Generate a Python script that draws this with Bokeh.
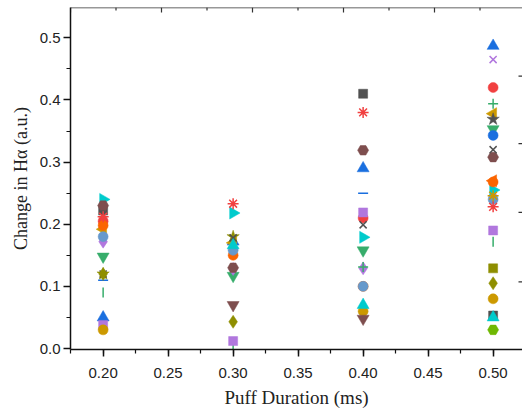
import math
from bokeh.plotting import figure
from bokeh.models import Range1d, FixedTicker, NumeralTickFormatter
from bokeh.embed import file_html
from bokeh.resources import INLINE

nan = float("nan")

# Puff durations (ms)
durations = [0.20, 0.30, 0.40, 0.50]

# Change in H-alpha (a.u.) for each measurement series, one value per duration
s_gray_square = [0.222, nan, 0.410, 0.053]
s_red_pentagon = [0.205, nan, 0.210, 0.420]
s_blue_up = [0.050, 0.172, 0.290, 0.487]
s_green_down = [0.148, 0.117, 0.158, 0.353]
s_purple_diamond = [0.172, 0.128, 0.129, 0.245]
s_gold_left = [0.192, 0.170, nan, 0.378]
s_cyan_right = [0.240, 0.218, 0.179, 0.255]
s_brown_hex = [0.230, 0.130, 0.319, 0.308]
s_olive_star = [0.120, 0.180, nan, nan]
s_orange_pentagon = [0.198, 0.150, 0.100, 0.268]
s_lightblue_sphere = [0.180, 0.158, 0.100, 0.240]
s_gray_x = [0.120, 0.178, 0.199, 0.320]
s_red_asterisk = [0.212, 0.233, 0.380, 0.228]
s_blue_dash = [0.110, nan, 0.250, nan]
s_green_bar = [0.090, 0.002, nan, 0.172]
s_purple_square = [0.038, 0.012, 0.219, 0.190]
s_gold_circle = [0.030, nan, 0.060, 0.080]
s_cyan_up = [nan, 0.166, 0.070, 0.050]
s_brown_down = [nan, 0.070, 0.048, nan]
s_olive_diamond = [0.120, 0.043, nan, 0.105]
s_orange_left = [nan, nan, nan, 0.270]
s_lime_hex = [nan, nan, nan, 0.030]
s_gray_star = [nan, nan, nan, 0.369]
s_blue_sphere = [nan, nan, nan, 0.343]
s_green_plus = [nan, nan, 0.131, 0.394]
s_purple_x = [nan, nan, nan, 0.465]
s_olive_square = [nan, nan, nan, 0.129]
s_gold_asterisk = [nan, nan, nan, 0.246]

x_ticks = [0.20, 0.25, 0.30, 0.35, 0.40, 0.45, 0.50]
y_ticks = [0.0, 0.1, 0.2, 0.3, 0.4, 0.5]

# edges of the neighbouring (cropped) panels, in frame pixel units
edge_top_major = [0, 91, 182, 273, 364]
edge_top_minor = [45.5, 136.5, 227.5, 318.5, 409.5]
edge_right_ticks = [68, 138, 207, 275]

# styles: (values, colour, marker, angle, size)
L = math.pi / 2
series = [
    (s_gray_square, "#515151", "square", 0, 9),
    (s_red_pentagon, "#F14040", "circle", 0, 10),
    (s_blue_up, "#1A6FDF", "triangle", 0, 12),
    (s_green_down, "#37AD6B", "inverted_triangle", 0, 12),
    (s_purple_diamond, "#B177DE", "diamond", 0, 13),
    (s_gold_left, "#CC9900", "triangle", L, 12),
    (s_cyan_right, "#00CBCC", "triangle", -L, 12),
    (s_brown_hex, "#7E4E4E", "hex", 0, 11),
    (s_olive_star, "#8E8E00", "star", 0, 13),
    (s_orange_pentagon, "#FB6501", "circle", 0, 10),
    (s_lightblue_sphere, "#6699CC", "circle", 0, 10),
    (s_gray_x, "#515151", "x", 0, 10),
    (s_red_asterisk, "#F14040", "asterisk", 0, 11),
    (s_blue_dash, "#1A6FDF", "dash", 0, 10),
    (s_green_bar, "#37AD6B", "dash", L, 10),
    (s_purple_square, "#B177DE", "square", 0, 9),
    (s_gold_circle, "#CC9900", "circle", 0, 10),
    (s_cyan_up, "#00CBCC", "triangle", 0, 12),
    (s_brown_down, "#7E4E4E", "inverted_triangle", 0, 12),
    (s_olive_diamond, "#8E8E00", "diamond", 0, 13),
    (s_orange_left, "#FB6501", "triangle", L, 12),
    (s_lime_hex, "#6FB802", "hex", 0, 11),
    (s_gray_star, "#515151", "star", 0, 13),
    (s_blue_sphere, "#1A6FDF", "circle", 0, 10),
    (s_green_plus, "#37AD6B", "cross", 0, 10),
    (s_purple_x, "#B177DE", "x", 0, 10),
    (s_olive_square, "#8E8E00", "square", 0, 9),
    (s_gold_asterisk, "#CC9900", "asterisk", 0, 11),
]

FRAME_W, FRAME_H = 452, 344

p = figure(width=522, height=410,
           x_range=Range1d(0.1749, 0.5226), y_range=Range1d(-0.0016, 0.5488),
           output_backend="svg", toolbar_location=None,
           min_border_left=70, min_border_right=0, min_border_top=7, min_border_bottom=59)
p.outline_line_color = None
p.xgrid.visible = False
p.ygrid.visible = False
p.background_fill_color = "white"
p.border_fill_color = "white"

for vals, color, marker, ang, size in series:
    line_only = marker in ("x", "asterisk", "dash", "cross")
    p.scatter(durations, vals, marker=marker, size=size, angle=ang,
              fill_color=color, line_color=color,
              line_width=1.5 if line_only else 0.5)

minor_x = [0.175 + 0.025 * i for i in range(15)]
minor_y = [0.05 * i for i in range(12)]

xa = p.xaxis[0]
xa.ticker = FixedTicker(ticks=x_ticks, minor_ticks=minor_x)
xa.formatter = NumeralTickFormatter(format="0.00")
xa.axis_label = "Puff Duration (ms)"

ya = p.yaxis[0]
ya.ticker = FixedTicker(ticks=y_ticks, minor_ticks=minor_y)
ya.formatter = NumeralTickFormatter(format="0.0")
ya.axis_label = "Change in H\u03b1 (a.u.)"

for ax in (xa, ya):
    ax.axis_line_width = 1.5
    ax.axis_line_color = "#111111"
    ax.major_tick_line_width = 1.5
    ax.major_tick_line_color = "#111111"
    ax.minor_tick_line_width = 1.2
    ax.minor_tick_line_color = "#111111"
    ax.major_tick_in = 0
    ax.major_tick_out = 7
    ax.minor_tick_in = 0
    ax.minor_tick_out = 4
    ax.major_label_text_font = "Liberation Sans"
    ax.major_label_text_font_size = "15px"
    ax.major_label_text_color = "#222222"
    ax.axis_label_text_font = "Liberation Serif"
    ax.axis_label_text_font_style = "normal"
    ax.axis_label_text_color = "#222222"

xa.axis_label_text_font_size = "19px"
xa.major_label_standoff = 11
xa.axis_label_standoff = 6
ya.axis_label_text_font_size = "18px"
ya.major_label_standoff = 3
ya.axis_label_standoff = 6

# neighbouring panel frame edges visible in the cropped figure
p.extra_x_ranges = {"px": Range1d(0, FRAME_W)}
p.extra_y_ranges = {"py": Range1d(0, FRAME_H)}
edge = dict(x_range_name="px", y_range_name="py", line_color="#333333")
p.segment(x0=[0], y0=[FRAME_H], x1=[FRAME_W], y1=[FRAME_H], line_width=1.5, **edge)
p.segment(x0=edge_top_major, y0=[FRAME_H] * len(edge_top_major),
          x1=edge_top_major, y1=[FRAME_H - 5] * len(edge_top_major), line_width=1.2, **edge)
p.segment(x0=edge_top_minor, y0=[FRAME_H] * len(edge_top_minor),
          x1=edge_top_minor, y1=[FRAME_H - 3] * len(edge_top_minor), line_width=1.2, **edge)
p.segment(x0=[FRAME_W - 4] * len(edge_right_ticks), y0=edge_right_ticks,
          x1=[FRAME_W] * len(edge_right_ticks), y1=edge_right_ticks, line_width=1.2, **edge)

open("out.html", "w").write(file_html(p, INLINE))
